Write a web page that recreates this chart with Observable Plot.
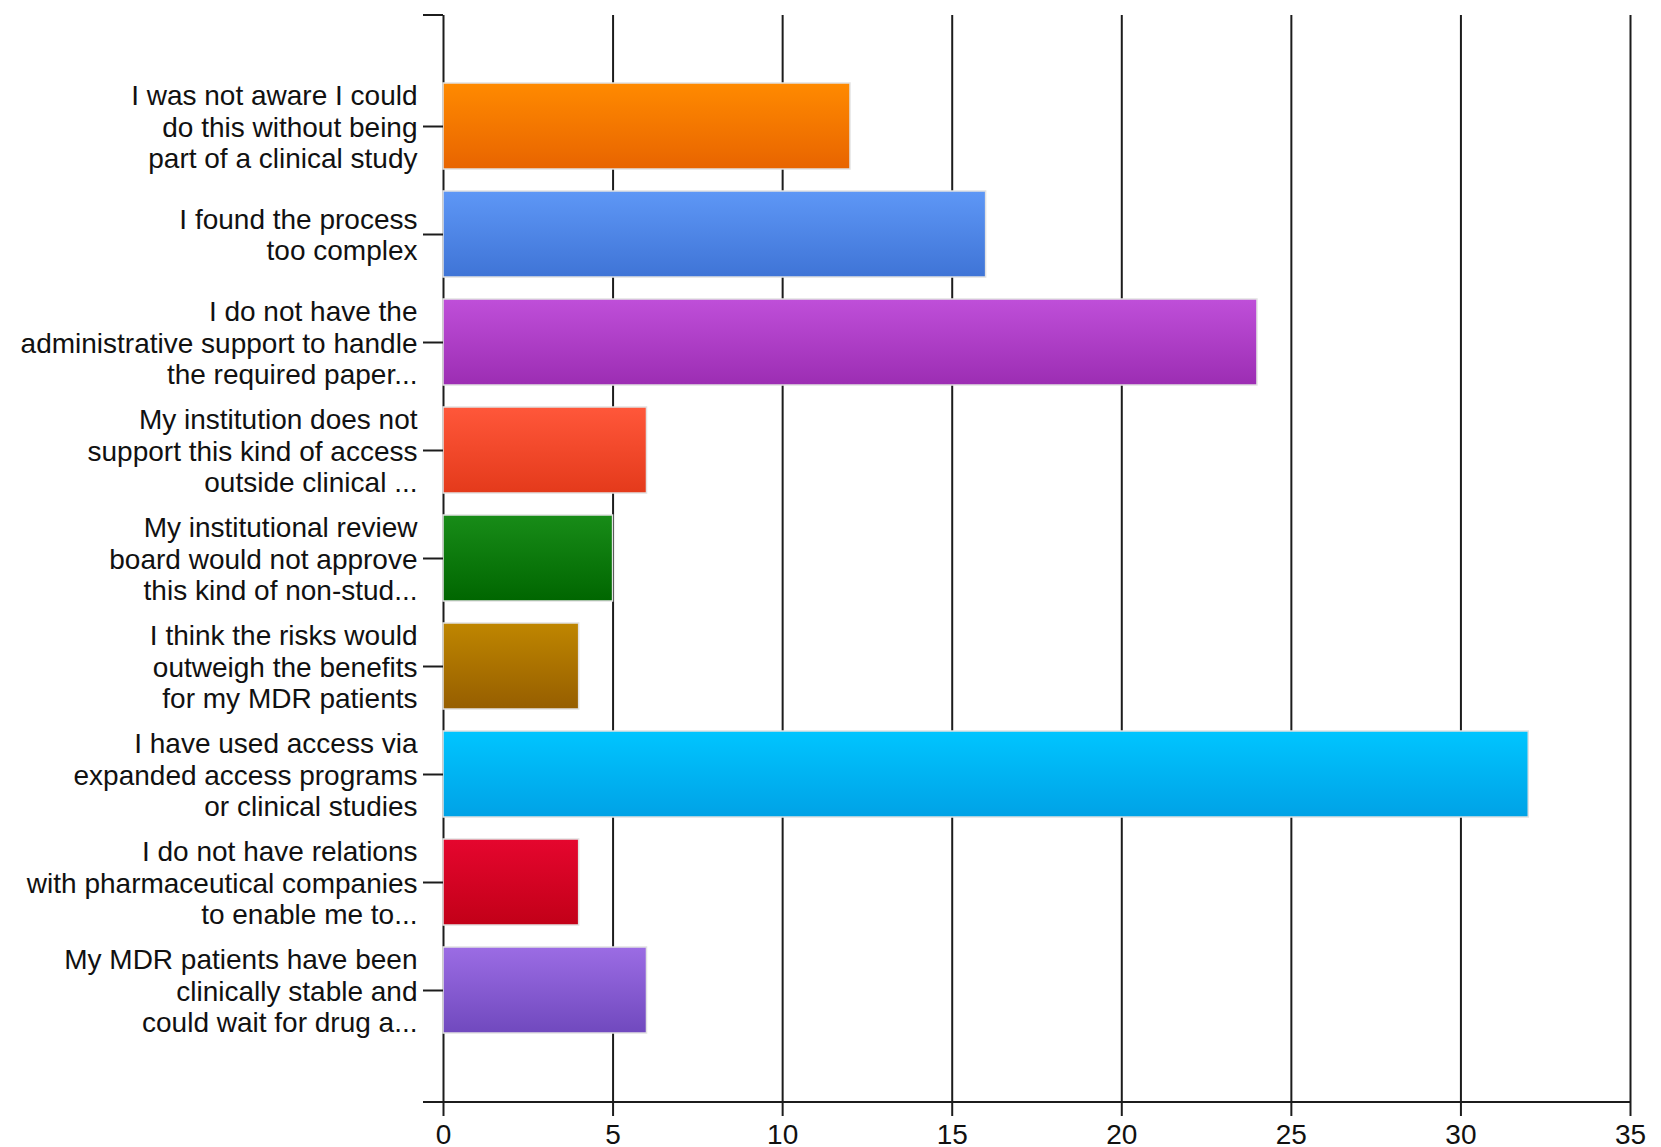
<!DOCTYPE html>
<html>
<head>
<meta charset="utf-8">
<script src="https://cdn.jsdelivr.net/npm/d3@7"></script>
<script src="https://cdn.jsdelivr.net/npm/@observablehq/plot@0.6"></script>
<style>
  html, body { margin: 0; padding: 0; background: #fff; }
  #chart svg { display: block; }
</style>
</head>
<body>
<div id="chart"></div>
<script>
// Categories (tick labels as shown, with line breaks)
const categories = [
  "I was not aware I could\ndo this without being\npart of a clinical study",
  "I found the process\ntoo complex",
  "I do not have the\nadministrative support to handle\nthe required paper...",
  "My institution does not\nsupport this kind of access\noutside clinical ...",
  "My institutional review\nboard would not approve\nthis kind of non-stud...",
  "I think the risks would\noutweigh the benefits\nfor my MDR patients",
  "I have used access via\nexpanded access programs\nor clinical studies",
  "I do not have relations\nwith pharmaceutical companies\nto enable me to...",
  "My MDR patients have been\nclinically stable and\ncould wait for drug a..."
];
const values = [12, 16, 24, 6, 5, 4, 32, 4, 6];
const topColors =    ["#FF8A00", "#5E97F6", "#BF4FD9", "#FF573A", "#188C18", "#BF8600", "#00C5FF", "#E5062E", "#9B6CE4"];
const bottomColors = ["#E86400", "#3F74D6", "#9C2DB3", "#E43A1B", "#006600", "#965E00", "#00A2E6", "#C20018", "#7049BE"];
const xTicks = [0, 5, 10, 15, 20, 25, 30, 35];

const data = categories.map((c, i) => ({category: c, value: values[i], grad: `url(#bargrad${i})`}));

const lineColor = "#1c1c1c";

const plot = Plot.plot({
  width: 1661,
  height: 1147,
  marginLeft: 443,
  marginRight: 31,
  marginTop: 15,
  marginBottom: 45,
  style: {fontFamily: "'Liberation Sans', Arial, sans-serif", fontSize: "28px", color: "#111", background: "#fff"},
  x: {domain: [xTicks[0], xTicks[xTicks.length - 1]], ticks: xTicks},
  y: {domain: categories, paddingInner: 0.2, paddingOuter: 0.6, align: 0.5},
  color: {type: "identity"},
  marks: [
    // vertical grid lines (including the y axis line at 0)
    Plot.ruleX(xTicks, {stroke: lineColor, strokeWidth: 2}),
    // bars
    Plot.barX(data, {x: "value", y: "category", fill: "grad", stroke: "#e2e2e2", strokeWidth: 1.5}),
    // axis domain paths (outer ticks + baseline)
    (index, scales, values, dims) => {
      const {x} = scales;
      const x0 = x(xTicks[0]);
      const x1 = x(xTicks[xTicks.length - 1]);
      const top = dims.marginTop;
      const bottom = dims.height - dims.marginBottom;
      const g = d3.create("svg:g");
      g.append("path")
        .attr("d", `M${x0 - 20},${top}H${x0}M${x0 - 20},${bottom}H${x1}`)
        .attr("fill", "none")
        .attr("stroke", lineColor)
        .attr("stroke-width", 2);
      return g.node();
    },
    Plot.axisY({
      tickSize: 20,
      tickPadding: 6,
      stroke: lineColor,
      strokeWidth: 2,
      fontSize: 28,
      lineHeight: 1.12,
      fill: "#111",
      label: null
    }),
    Plot.axisX({
      ticks: xTicks,
      tickSize: 14,
      tickPadding: 8,
      stroke: lineColor,
      strokeWidth: 2,
      fontSize: 28,
      fill: "#111",
      label: null
    })
  ]
});

// gradient definitions for the bars
const svg = d3.select(plot);
const defs = svg.insert("defs", ":first-child");
values.forEach((v, i) => {
  const lg = defs.append("linearGradient")
    .attr("id", `bargrad${i}`)
    .attr("x1", 0).attr("y1", 0).attr("x2", 0).attr("y2", 1);
  lg.append("stop").attr("offset", "0%").attr("stop-color", topColors[i]);
  lg.append("stop").attr("offset", "100%").attr("stop-color", bottomColors[i]);
});

document.getElementById("chart").appendChild(plot);
</script>
</body>
</html>
